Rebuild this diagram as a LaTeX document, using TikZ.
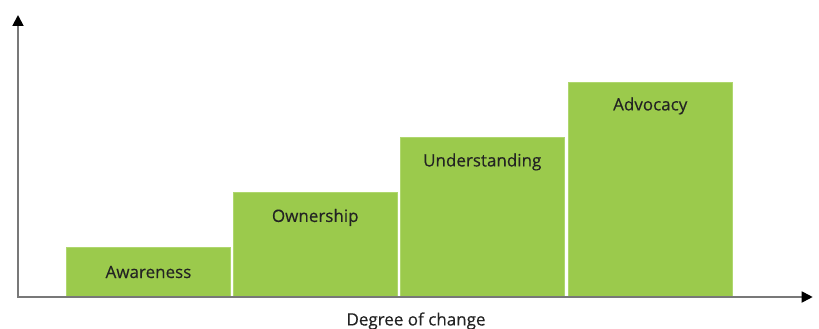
\documentclass[tikz,border=0pt]{standalone}
\usepackage{fontspec}
\setmainfont{Open Sans}
\newfontfamily\labfont[FakeBold=0.35]{Open Sans}
\usetikzlibrary{arrows.meta}
\definecolor{bargreen}{RGB}{155,202,76}
\definecolor{barline}{RGB}{175,215,110}
\definecolor{axisgray}{RGB}{120,120,120}
\definecolor{txt}{RGB}{35,35,35}
\begin{document}
\begin{tikzpicture}[x=1pt,y=-1pt,
  bar/.style={fill=bargreen,draw=barline,line width=0.6pt,minimum width=163.5pt,anchor=south west,inner sep=0pt,outer sep=0pt},
  lab/.style={text=txt,font=\labfont\fontsize{17}{19}\selectfont,anchor=center,inner sep=0pt},
  axis/.style={draw=axisgray,line width=1.8pt,-{Triangle[length=11pt,width=11pt,color=black,fill=black]}}]
\useasboundingbox (0,0) rectangle (819,329);
\coordinate (o) at (18,297);
\coordinate (xend) at (812.7,297);
\coordinate (yend) at (18,15);
\node[bar,minimum height=50pt] (b1) at (66.7,297) {};
\node[bar,minimum height=105pt] (b2) at (233.5,297) {};
\node[bar,minimum height=160pt] (b3) at (400.5,297) {};
\node[bar,minimum height=215pt] (b4) at (568.5,297) {};
\node[lab] (l1) at ([yshift=-25pt]b1.north) {Awareness};
\node[lab] (l2) at ([yshift=-25.5pt]b2.north) {Ownership};
\node[lab] (l3) at ([yshift=-25pt]b3.north) {Understanding};
\node[lab] (l4) at ([yshift=-24pt]b4.north) {Advocacy};
\draw[axis] ([xshift=-0.9pt]o) -- (xend);
\draw[axis] ([yshift=0.9pt]o) -- (yend);
\node[lab] (xl) at (416,321) {Degree of change};
\end{tikzpicture}
\end{document}
